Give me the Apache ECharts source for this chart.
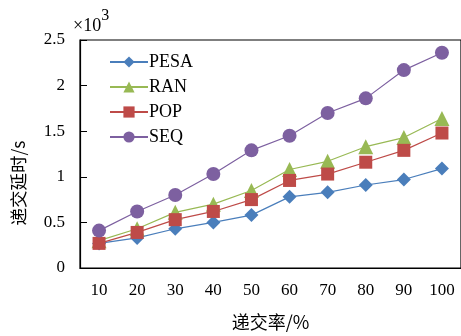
<!DOCTYPE html>
<html><head><meta charset="utf-8">
<script src="https://cdn.jsdelivr.net/npm/echarts@6/dist/echarts.min.js"></script>
<style>html,body{margin:0;padding:0;background:#fff}#c{width:461px;height:336px}</style>
</head><body><div id="c"></div>
<script>
const categories = ['10','20','30','40','50','60','70','80','90','100'];
const pesa = [0.27,0.33,0.43,0.50,0.58,0.78,0.83,0.91,0.97,1.09];
const ran  = [0.30,0.43,0.61,0.70,0.85,1.08,1.17,1.33,1.43,1.64];
const pop  = [0.27,0.39,0.53,0.62,0.75,0.96,1.03,1.16,1.29,1.48];
const seq  = [0.41,0.62,0.80,1.03,1.29,1.45,1.70,1.86,2.17,2.36];
const yTicks = [0, 0.5, 1, 1.5, 2, 2.5];

const serif = '"Liberation Serif","DejaVu Serif",serif';
const cjk = '"Noto Sans CJK SC",sans-serif';
function mk(name, data, color, symbol, size){
  return {name, type:'line', data, symbol, symbolSize:size,
    lineStyle:{color, width:1.2}, itemStyle:{color}, z: 3};
}
const chart = echarts.init(document.getElementById('c'));
chart.setOption({
  animation:false,
  grid:{left:80, top:40, width:382, height:242, show:true, borderColor:'#000', borderWidth:1.2},
  legend:{orient:'vertical', left:104, top:48, itemGap:7, itemWidth:38, itemHeight:14,
    textStyle:{fontFamily:serif, fontSize:18, color:'#000', padding:[0,0,0,-4]},
    data:['PESA','RAN','POP','SEQ']},
  xAxis:{type:'category', data:categories, boundaryGap:true,
    axisLine:{lineStyle:{color:'#000', width:1.2}},
    axisTick:{inside:true, length:7, lineStyle:{color:'#000'}},
    axisLabel:{fontFamily:serif, fontSize:17, color:'#000', margin:14},
    name:'递交率/%', nameLocation:'middle', nameGap:45,
    nameTextStyle:{fontFamily:cjk, fontSize:18, color:'#000'}},
  yAxis:{type:'value', min:0, max:2.5, interval:0.5,
    axisLine:{show:true, lineStyle:{color:'#000', width:1.2}},
    axisTick:{show:true, inside:true, length:7, lineStyle:{color:'#000'}},
    splitLine:{show:false},
    axisLabel:{fontFamily:serif, fontSize:17, color:'#000', margin:15,
      formatter:v=>yTicks.includes(v)?String(v):''}},
  graphic:[{type:'text', left:73, top:8,
    style:{text:'{a|×10}{b|3}', rich:{
      a:{fontFamily:serif, fontSize:18, fill:'#000', padding:[9,0,0,0]},
      b:{fontFamily:serif, fontSize:16, fill:'#000', verticalAlign:'top', padding:[0,0,9,0]}}}},
    {type:'text', x:18, y:183, rotation:Math.PI/2,
     style:{text:'递交延时/s', fontFamily:cjk, fontSize:17.5, fill:'#000', align:'center', verticalAlign:'middle'}}],
  series:[
    mk('PESA', pesa, '#4a7ebb', 'diamond', 14),
    mk('RAN', ran, '#98b954', 'triangle', 15),
    mk('POP', pop, '#be4b48', 'rect', 13),
    mk('SEQ', seq, '#7d60a0', 'circle', 14)
  ]
});
</script></body></html>
